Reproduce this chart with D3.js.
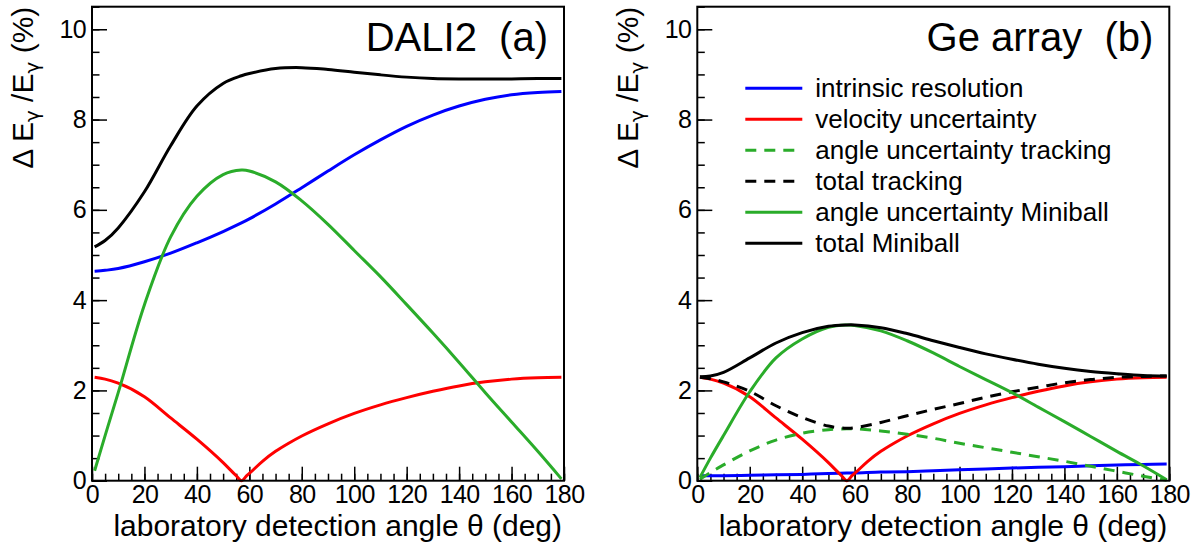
<!DOCTYPE html>
<html>
<head>
<meta charset="utf-8">
<script src="https://cdn.jsdelivr.net/npm/d3@7"></script>
<style>
  body { margin: 0; background: #fff; }
  svg { display: block; font-family: "Liberation Sans", Arial, sans-serif; }
</style>
</head>
<body>
<svg id="chart" width="1200" height="545"></svg>
<script>
const angles = [1, 5, 10, 20, 30, 40, 50, 57, 60, 70, 80, 90, 100, 110, 120, 130, 140, 150, 160, 170, 179];
const redAngles = [1, 5, 10, 20, 30, 40, 50, 55, 57, 59, 60, 65, 70, 75, 80, 90, 100, 110, 120, 130, 140, 150, 160, 170, 179];

// velocity uncertainty, same in both panels
const velocity = [2.29, 2.25, 2.16, 1.86, 1.39, 0.92, 0.4, 0.11, 0, 0.11, 0.16, 0.43, 0.65, 0.83, 0.99, 1.26, 1.49, 1.68, 1.84, 1.98, 2.1, 2.19, 2.25, 2.28, 2.29];

// (a) DALI2
const daliIntrinsic = [4.64, 4.66, 4.70, 4.85, 5.04, 5.27, 5.52, 5.71, 5.8, 6.13, 6.49, 6.86, 7.22, 7.55, 7.85, 8.1, 8.3, 8.45, 8.55, 8.6, 8.62];
const daliAngle = [0.22, 1.0, 1.95, 3.9, 5.4, 6.3, 6.78, 6.88, 6.86, 6.62, 6.2, 5.68, 5.1, 4.52, 3.9, 3.27, 2.62, 1.95, 1.3, 0.65, 0.04];
const daliTotal = [5.18, 5.32, 5.6, 6.4, 7.42, 8.3, 8.8, 8.97, 9.02, 9.13, 9.15, 9.11, 9.05, 8.99, 8.94, 8.91, 8.9, 8.9, 8.9, 8.91, 8.91];

// (b) Ge array
const geIntrinsic = [0.11, 0.11, 0.11, 0.12, 0.13, 0.14, 0.16, 0.17, 0.17, 0.19, 0.2, 0.22, 0.24, 0.26, 0.28, 0.3, 0.31, 0.33, 0.35, 0.36, 0.37];
const geAngleTracking = [0.03, 0.18, 0.35, 0.66, 0.9, 1.05, 1.13, 1.15, 1.15, 1.1, 1.03, 0.94, 0.83, 0.73, 0.63, 0.53, 0.43, 0.32, 0.21, 0.1, 0.01];
const geTotalTracking = [2.29, 2.26, 2.19, 1.98, 1.66, 1.4, 1.21, 1.16, 1.17, 1.29, 1.44, 1.58, 1.71, 1.85, 1.97, 2.07, 2.17, 2.24, 2.29, 2.31, 2.32];
const geAngleMiniball = [0.07, 0.5, 1.0, 1.97, 2.72, 3.14, 3.4, 3.45, 3.44, 3.32, 3.1, 2.83, 2.53, 2.24, 1.95, 1.63, 1.31, 0.98, 0.65, 0.33, 0.02];
const geTotalMiniball = [2.3, 2.32, 2.4, 2.72, 3.05, 3.28, 3.42, 3.45, 3.45, 3.39, 3.26, 3.1, 2.95, 2.81, 2.69, 2.58, 2.49, 2.42, 2.37, 2.33, 2.32];

const xTicks = [0, 20, 40, 60, 80, 100, 120, 140, 160, 180];
const yTicks = [0, 2, 4, 6, 8, 10];

const BLUE = "#0000ff", RED = "#ff0000", GREEN = "#2aac2a", BLACK = "#000000";
const DASH = "11,8";

const svg = d3.select("#chart");
const W = 472, H = 474, TOP = 6.7;

function drawPanel(left, title, series, legend) {
  const g = svg.append("g").attr("transform", `translate(${left},${TOP})`);
  const x = d3.scaleLinear().domain([0, 180]).range([0, W]);
  const y = d3.scaleLinear().domain([0, 10.5]).range([H, 0]);

  // minor ticks
  g.append("g").attr("transform", `translate(0,${H})`)
    .call(d3.axisBottom(x).tickValues(d3.range(0, 181, 5)).tickSize(-7).tickFormat(""));
  g.append("g")
    .call(d3.axisLeft(y).tickValues(d3.range(0, 10.51, 0.5)).tickSize(-7.5).tickFormat(""));

  // major ticks + labels
  g.append("g").attr("class", "xaxis").attr("transform", `translate(0,${H})`)
    .call(d3.axisBottom(x).tickValues(xTicks).tickSize(-14).tickPadding(5));
  g.append("g").attr("class", "yaxis")
    .call(d3.axisLeft(y).tickValues(yTicks).tickSize(-15).tickPadding(6));

  g.selectAll(".domain").remove();
  g.selectAll(".tick line").attr("stroke-width", 1.5);
  g.selectAll(".tick text").attr("font-size", 25).attr("fill", "#000")
    .attr("letter-spacing", -0.6);
  g.selectAll("g").attr("font-family", null);

  // curves: smooth ones through catmull-rom, the V-shaped one monotone
  const smooth = d3.line()
    .x(d => x(d[0]))
    .y(d => y(d[1]))
    .curve(d3.curveCatmullRom.alpha(0.5));
  const sharp = d3.line()
    .x(d => x(d[0]))
    .y(d => y(d[1]))
    .curve(d3.curveMonotoneX);

  series.forEach(s => {
    g.append("path")
      .datum(d3.zip(s.x, s.v))
      .attr("fill", "none")
      .attr("stroke", s.color)
      .attr("stroke-width", 3)
      .attr("stroke-dasharray", s.dash || null)
      .attr("d", s.x === redAngles ? sharp : smooth);
  });

  // frame
  g.append("rect")
    .attr("width", W).attr("height", H)
    .attr("fill", "none").attr("stroke", "#000").attr("stroke-width", 2);

  // panel title
  g.append("text")
    .attr("x", W - 16).attr("y", 44)
    .attr("text-anchor", "end")
    .attr("font-size", 40)
    .style("white-space", "pre")
    .text(title);

  // axis titles
  g.append("text")
    .attr("x", W - 2).attr("y", H + 55)
    .attr("text-anchor", "end")
    .attr("font-size", 30)
    .text("laboratory detection angle \u03b8 (deg)");

  const yt = g.append("text")
    .attr("transform", `translate(${-59},0) rotate(-90)`)
    .attr("text-anchor", "end")
    .attr("font-size", 30);
  yt.append("tspan").text("\u0394 E");
  yt.append("tspan").attr("font-size", 20).attr("font-family", "DejaVu Sans").attr("dy", 6).text("\u03b3");
  yt.append("tspan").attr("dy", -6).text(" /E");
  yt.append("tspan").attr("font-size", 20).attr("font-family", "DejaVu Sans").attr("dy", 6).text("\u03b3");
  yt.append("tspan").attr("dy", -6).text(" (%)");

  // legend
  if (legend) {
    const lg = g.append("g").attr("transform", "translate(48,81.6)");
    legend.forEach((s, i) => {
      const row = lg.append("g").attr("transform", `translate(0,${i * 31})`);
      row.append("line")
        .attr("x1", 0).attr("x2", 57)
        .attr("stroke", s.color).attr("stroke-width", 3)
        .attr("stroke-dasharray", s.dash || null);
      row.append("text")
        .attr("x", 70).attr("dy", "0.35em")
        .attr("font-size", 26)
        .text(s.label);
    });
  }
}

drawPanel(92, "DALI2  (a)", [
  { x: angles, v: daliIntrinsic, color: BLUE },
  { x: redAngles, v: velocity, color: RED },
  { x: angles, v: daliAngle, color: GREEN },
  { x: angles, v: daliTotal, color: BLACK }
]);

const geSeries = [
  { x: angles, v: geIntrinsic, color: BLUE, label: "intrinsic resolution" },
  { x: redAngles, v: velocity, color: RED, label: "velocity uncertainty" },
  { x: angles, v: geAngleTracking, color: GREEN, dash: DASH, label: "angle uncertainty tracking" },
  { x: angles, v: geTotalTracking, color: BLACK, dash: DASH, label: "total tracking" },
  { x: angles, v: geAngleMiniball, color: GREEN, label: "angle uncertainty Miniball" },
  { x: angles, v: geTotalMiniball, color: BLACK, label: "total Miniball" }
];
drawPanel(697.3, "Ge array  (b)", geSeries, geSeries);
</script>
</body>
</html>
